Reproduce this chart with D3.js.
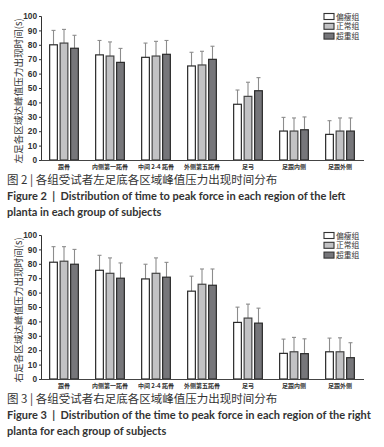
<!DOCTYPE html>
<html>
<head>
<meta charset="utf-8">
<script src="https://cdn.jsdelivr.net/npm/d3@7"></script>
<style>
  body { margin: 0; background: #fff; }
  svg { display: block; }
  .tick text { font-family: "Liberation Sans", Arial, sans-serif; font-weight: bold; font-size: 8.3px; fill: #333; }
  .cat text { font-family: "Noto Sans CJK SC", serif; font-weight: bold; font-size: 6px; fill: #333; }
</style>
</head>
<body>
<div id="plots"></div>
<script>
// regions along the x axis
var categories = ["跟骨", "内侧第一跖骨", "中间 2-4 跖骨", "外侧第五跖骨", "足弓", "足跟内侧", "足跟外侧"];
var groups = ["偏瘦组", "正常组", "超重组"];
var yTicks = [0, 10, 20, 30, 40, 50, 60, 70, 80, 90, 100];

// figure 2, left foot (mean / upper error)
var leftThin   = [80.0, 73.0, 71.3, 65.3, 38.7, 20.1, 17.8];
var leftNormal = [81.2, 72.2, 72.2, 66.0, 44.2, 20.1, 20.1];
var leftOver   = [77.6, 67.8, 73.4, 69.9, 48.1, 21.0, 20.1];
var leftThinErr   = [90.0, 83.0, 81.2, 74.8, 48.6, 29.6, 27.3];
var leftNormalErr = [90.7, 82.0, 82.4, 75.5, 54.0, 29.2, 29.2];
var leftOverErr   = [86.6, 77.5, 83.0, 79.0, 57.2, 29.9, 29.2];

// figure 3, right foot
var rightThin   = [81.1, 75.5, 69.5, 61.0, 39.3, 17.8, 18.9];
var rightNormal = [81.8, 73.4, 73.4, 65.8, 42.3, 18.9, 18.9];
var rightOver   = [79.7, 70.0, 70.7, 65.1, 38.8, 17.6, 14.8];
var rightThinErr   = [91.9, 85.9, 79.7, 71.4, 49.9, 27.7, 28.4];
var rightNormalErr = [91.9, 84.1, 84.1, 76.4, 52.0, 28.9, 28.6];
var rightOverErr   = [90.0, 80.6, 81.0, 76.4, 49.2, 27.9, 25.2];

var width = 384;
var height = 447;

var fills = ["#ffffff", "#c2c2c4", "#76767a"];
var strokes = ["#2a2a2a", "#444", "#2a2a2a"];

var svg = d3.select("#plots")
            .append("svg")
            .attr("width", width)
            .attr("height", height);

function drawChart(top, means, errs, yLabel) {
  var g = svg.append("g").attr("transform", "translate(0," + top + ")");

  var y = d3.scaleLinear().domain([0, 100]).range([144, 0]);
  var x = d3.scaleBand().domain(categories).range([41, 363])
            .paddingInner(0.35).paddingOuter(0.175);
  var xs = d3.scaleBand().domain(groups).range([0, x.bandwidth()]).paddingInner(0.15);

  // rows: one per category, three bars each
  var rows = categories.map(function(c, i) {
    return groups.map(function(gr, k) {
      return {cat: c, group: gr, k: k, v: means[k][i], e: errs[k][i]};
    });
  });

  var cg = g.selectAll("g.catg")
     .data(rows)
     .enter()
     .append("g")
     .attr("class", "catg")
     .attr("transform", function(d) { return "translate(" + x(d[0].cat) + ",0)"; });

  // error bars (upper only)
  var eb = cg.selectAll("g.err")
     .data(function(d) { return d; })
     .enter()
     .append("g")
     .attr("class", "err")
     .attr("stroke", "#8c8c8c")
     .attr("stroke-width", 1.1);
  eb.append("line")
     .attr("x1", function(d) { return xs(d.group) + xs.bandwidth() / 2; })
     .attr("x2", function(d) { return xs(d.group) + xs.bandwidth() / 2; })
     .attr("y1", function(d) { return y(d.v); })
     .attr("y2", function(d) { return y(d.e); });
  eb.append("line")
     .attr("x1", function(d) { return xs(d.group) + xs.bandwidth() / 2 - 2; })
     .attr("x2", function(d) { return xs(d.group) + xs.bandwidth() / 2 + 2; })
     .attr("y1", function(d) { return y(d.e); })
     .attr("y2", function(d) { return y(d.e); });

  cg.selectAll("rect")
     .data(function(d) { return d; })
     .enter()
     .append("rect")
     .attr("x", function(d) { return xs(d.group) + 0.6; })
     .attr("y", function(d) { return y(d.v); })
     .attr("width", xs.bandwidth() - 1.2)
     .attr("height", function(d) { return y(0) - y(d.v); })
     .attr("fill", function(d) { return fills[d.k]; })
     .attr("stroke", function(d) { return strokes[d.k]; })
     .attr("stroke-width", 1.2);

  // y axis
  var ya = g.append("g")
     .attr("transform", "translate(41,0)")
     .call(d3.axisLeft(y).tickValues(yTicks).tickSize(2).tickPadding(2));
  ya.select(".domain").attr("stroke", "#333");
  ya.selectAll(".tick line").attr("stroke", "#333");

  // x axis line
  g.append("line")
     .attr("x1", 41).attr("x2", 364)
     .attr("y1", y(0) + 0.5).attr("y2", y(0) + 0.5)
     .attr("stroke", "#444")
     .attr("stroke-width", 1);

  // category labels
  g.append("g").attr("class", "cat")
     .selectAll("text")
     .data(categories)
     .enter()
     .append("text")
     .text(function(d) { return d; })
     .attr("x", function(d) { return x(d) + x.bandwidth() / 2; })
     .attr("y", y(0) + 9)
     .attr("text-anchor", "middle");

  // y label
  g.append("text")
     .text(yLabel)
     .attr("transform", "translate(22," + y(48) + ") rotate(-90)")
     .attr("text-anchor", "middle")
     .attr("font-family", "Noto Sans CJK SC, sans-serif")
     .attr("font-size", 9.6)
     .attr("fill", "#333");

  // legend
  var lg = g.selectAll("g.leg")
     .data(groups)
     .enter()
     .append("g")
     .attr("class", "leg")
     .attr("transform", function(d, i) { return "translate(324," + (0.5 + i * 9.8) + ")"; });
  lg.append("rect")
     .attr("x", 0).attr("y", -3)
     .attr("width", 10).attr("height", 6)
     .attr("fill", function(d, i) { return fills[i]; })
     .attr("stroke", "#333")
     .attr("stroke-width", 1.1);
  lg.append("text")
     .text(function(d) { return d; })
     .attr("x", 12)
     .attr("y", 3)
     .attr("font-family", "Noto Sans CJK SC, serif")
     .attr("font-size", 7.8)
     .attr("fill", "#333");
}

drawChart(16, [leftThin, leftNormal, leftOver], [leftThinErr, leftNormalErr, leftOverErr],
          "左足各区域达峰值压力出现时间(s)");
drawChart(235, [rightThin, rightNormal, rightOver], [rightThinErr, rightNormalErr, rightOverErr],
          "右足各区域达峰值压力出现时间(s)");

// captions
function caption(yy, num, cn, en1, en2) {
  svg.append("text")
     .attr("x", 7).attr("y", yy)
     .attr("font-family", "Noto Sans CJK SC, sans-serif")
     .attr("font-size", 11.5)
     .attr("fill", "#333")
     .text("图 " + num + " | " + cn);
  [en1, en2].forEach(function(t, i) {
    svg.append("text")
       .attr("x", 7).attr("y", yy + 16 + i * 15.5)
       .attr("font-family", "Lato, sans-serif")
       .attr("font-weight", "bold")
       .attr("font-size", 11)
       .attr("fill", "#333")
       .attr("xml:space", "preserve")
       .style("white-space", "pre")
       .text(t);
  });
}

caption(184, 2, "各组受试者左足底各区域峰值压力出现时间分布",
        "Figure 2  |  Distribution of time to peak force in each region of the left",
        "planta in each group of subjects");
caption(403, 3, "各组受试者右足底各区域峰值压力出现时间分布",
        "Figure 3  |  Distribution of the time to peak force in each region of the right",
        "planta for each group of subjects");
</script>
</body>
</html>
